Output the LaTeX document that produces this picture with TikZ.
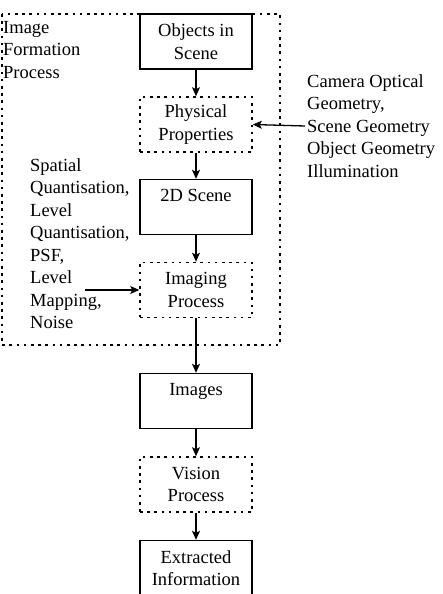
\documentclass[tikz,border=0pt]{standalone}
\usepackage{fontspec}
\setmainfont{Liberation Serif}
\usetikzlibrary{arrows.meta, positioning}

\begin{document}
\begin{tikzpicture}[x=1pt, y=-1pt,
  every node/.style={font=\fontsize{18.5}{22.5}\selectfont},
  solidbox/.style={draw, line width=1.4pt, minimum width=112pt,
    minimum height=55pt, inner sep=0pt, align=center},
  dotbox/.style={solidbox, line width=1.6pt, dash pattern=on 2.6pt off 4.6pt},
  flow/.style={-{Stealth[length=9pt, width=8pt, inset=2pt]}, line width=1.3pt}]
  \useasboundingbox (0,0) rectangle (442,594);
  % formation frame
  \draw[line width=1.6pt, dash pattern=on 2.6pt off 4.6pt] (2,14) rectangle (280,345);
  \node[anchor=north west, align=left, inner sep=0pt] (formation) at (3,21)
    {Image\\Formation\\Process};
  % pipeline
  \node[solidbox] (objects) at (196,41.5) {Objects in\\Scene};
  \node[dotbox] (phys) at (196,124.5) {Physical\\Properties};
  \node[solidbox] (scene) at (196,207) {2D Scene\\\mbox{}};
  \node[dotbox] (imaging) at (196,290) {Imaging\\Process};
  \node[solidbox] (images) at (196,401) {Images\\\mbox{}};
  \node[dotbox] (vision) at (196,484.5) {Vision\\Process};
  \node[solidbox] (extracted) at (196,568) {Extracted\\Information};
  % arrows
  \draw[flow] (objects) -- (phys);
  \draw[flow] (phys) -- (scene);
  \draw[flow] (scene) -- (imaging);
  \draw[flow] (imaging) -- (images);
  \draw[flow] (images) -- (vision);
  \draw[flow] (vision) -- (extracted);
  % side inputs
  \node[anchor=west, align=left, inner sep=2pt] (geometry) at (305,126)
    {Camera Optical\\Geometry,\\Scene Geometry\\Object Geometry\\Illumination};
  \draw[flow] (geometry.west) -- (phys.east);
  \node[anchor=west, align=left, inner sep=2pt] (sensor) at (28,243.5)
    {Spatial\\Quantisation,\\Level\\Quantisation,\\PSF,\\Level\\Mapping,\\Noise};
  \coordinate (sensortail) at (85,290);
  \draw[flow] (sensortail) -- (imaging.west);
\end{tikzpicture}
\end{document}
